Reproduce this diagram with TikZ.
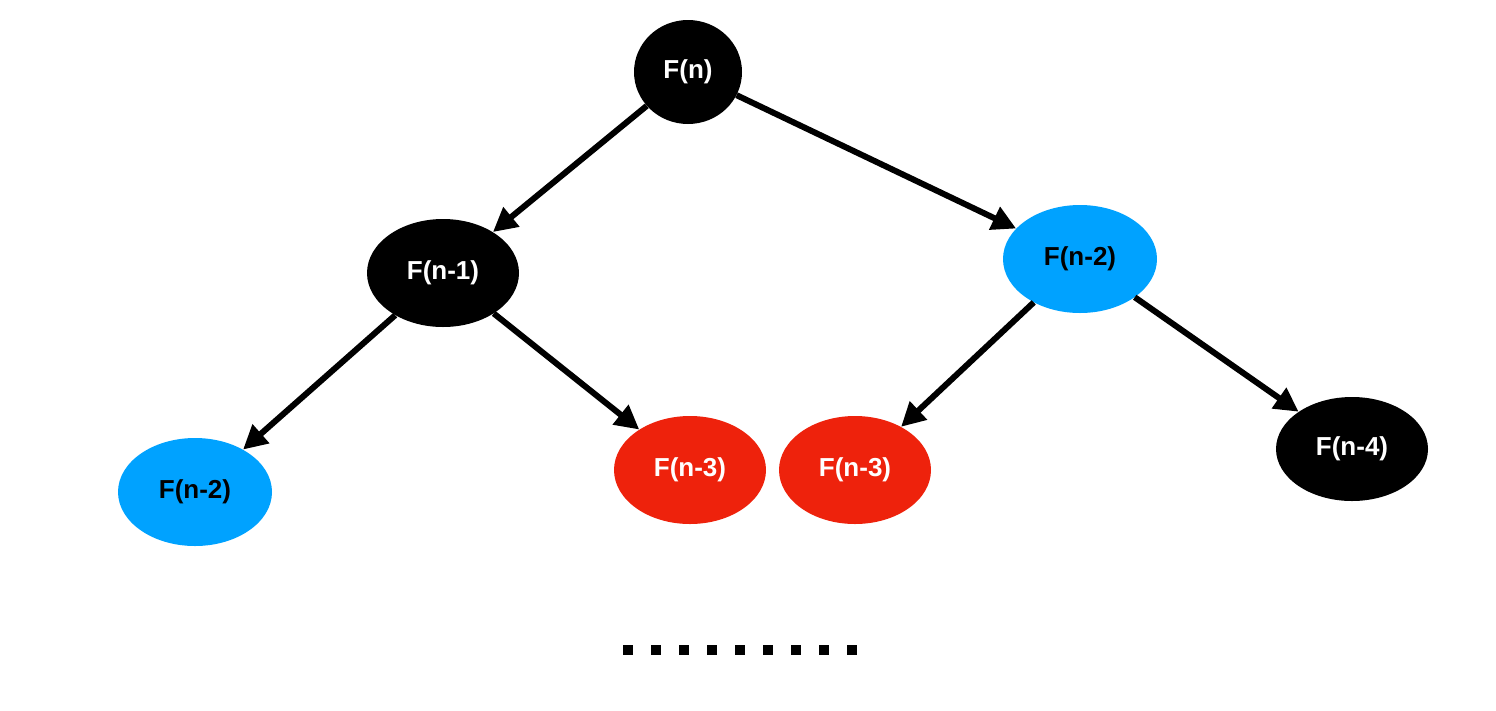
\documentclass[tikz,border=0pt]{standalone}
\usepackage{fontspec}
\setmainfont{Liberation Sans}
\usetikzlibrary{shapes.geometric,arrows.meta}
\definecolor{fblue}{HTML}{00A2FF}
\definecolor{fred}{HTML}{EE220C}
\begin{document}
\begin{tikzpicture}[x=1pt,y=-1pt,
  nd/.style={ellipse,inner sep=0,font=\fontsize{26}{30}\selectfont\bfseries},
  arr/.style={line width=6pt,-{Triangle[length=24pt,width=24pt]}}]
\useasboundingbox (0,0) rectangle (1496,710);
\node[nd,fill=black,text=white,minimum width=108pt,minimum height=104pt] (n) at (688,72) {F(n)};
\node[nd,fill=black,text=white,minimum width=152pt,minimum height=108pt] (n1) at (443,273) {F(n-1)};
\node[nd,fill=fblue,text=black,minimum width=154pt,minimum height=108pt] (n2r) at (1080,259) {F(n-2)};
\node[nd,fill=fblue,text=black,minimum width=154pt,minimum height=108pt] (n2l) at (195,492) {F(n-2)};
\node[nd,fill=fred,text=white,minimum width=152pt,minimum height=108pt] (n3a) at (690,470) {F(n-3)};
\node[nd,fill=fred,text=white,minimum width=152pt,minimum height=108pt] (n3b) at (855,470) {F(n-3)};
\node[nd,fill=black,text=white,minimum width=152pt,minimum height=104pt] (n4) at (1352,449) {F(n-4)};
\draw[arr] (n) -- (n1);
\draw[arr] (n) -- (n2r);
\draw[arr] (n1) -- (n2l);
\draw[arr] (n1) -- (n3a);
\draw[arr] (n2r) -- (n3b);
\draw[arr] (n2r) -- (n4);
\draw[line width=10pt,dash pattern=on 10pt off 18pt] (623,650) -- (865,650);
\end{tikzpicture}
\end{document}
